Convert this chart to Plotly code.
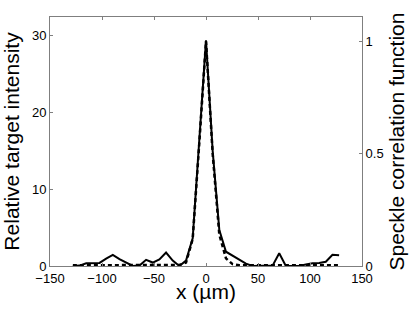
import plotly.graph_objects as go

# x positions (µm)
x_um = [-128.0, -121.6, -115.2, -108.8, -102.4, -96.0, -89.6, -83.2, -76.8, -70.4,
        -64.0, -57.6, -51.2, -44.8, -38.4, -32.0, -25.6, -19.2, -12.8, -6.4,
        0.0, 6.4, 12.8, 19.2, 25.6, 32.0, 38.4, 44.8, 51.2, 57.6,
        64.0, 70.4, 76.8, 83.2, 89.6, 96.0, 102.4, 108.8, 115.2, 121.6, 128.0]

# Relative target intensity (left axis, solid)
intensity = [0.0, 0.05, 0.35, 0.35, 0.4, 0.95, 1.45, 0.9, 0.4, 0.0,
             0.05, 0.8, 0.45, 0.85, 1.75, 0.7, 0.0, 0.7, 3.6, 16.3,
             29.4, 15.0, 4.7, 1.86, 1.35, 0.75, 0.3, 0.0, 0.0, 0.05,
             0.05, 1.65, 0.0, 0.0, 0.0, 0.2, 0.35, 0.4, 0.55, 1.45, 1.4]

# Speckle correlation function (right axis, dashed)
speckle = [0.003, 0.003, 0.003, 0.003, 0.003, 0.003, 0.003, 0.003, 0.003, 0.003,
           0.003, 0.003, 0.003, 0.003, 0.003, 0.003, 0.005, 0.015, 0.12, 0.55,
           1.0, 0.5, 0.14, 0.034, 0.008, 0.003, 0.003, 0.003, 0.003, 0.003,
           0.003, 0.003, 0.003, 0.003, 0.003, 0.003, 0.003, 0.003, 0.003, 0.003, 0.003]

x_ticks = [-150, -100, -50, 0, 50, 100, 150]
left_ticks = [0, 10, 20, 30]
right_ticks = [0, 0.5, 1]
right_tick_text = ["0", "0.5", "1"]

FONT = "Liberation Sans, Arial, sans-serif"
GRAY = "#7f7f7f"

fig = go.Figure()
fig.add_trace(go.Scatter(x=x_um, y=speckle, mode="lines", yaxis="y2",
                         line=dict(color="black", width=2.5, dash="4px,3px"),
                         showlegend=False))
fig.add_trace(go.Scatter(x=x_um, y=intensity, mode="lines",
                         line=dict(color="black", width=2),
                         showlegend=False))

fig.update_layout(
    width=415, height=311,
    margin=dict(l=50, r=53, t=17, b=45),
    paper_bgcolor="white", plot_bgcolor="white",
    font=dict(family=FONT, color="black", size=13),
    xaxis=dict(range=[-150, 150], tickvals=x_ticks, ticks="inside", ticklen=3,
               tickcolor=GRAY, showline=True, linecolor=GRAY, linewidth=1,
               mirror="ticks", showgrid=False, zeroline=False,
               tickfont=dict(size=13), automargin=False),
    yaxis=dict(range=[0, 32.44], tickvals=left_ticks, ticks="inside", ticklen=3,
               tickcolor=GRAY, showline=True, linecolor=GRAY, linewidth=1,
               showgrid=False, zeroline=False, tickfont=dict(size=13),
               automargin=False,
               title=dict(text="Relative target intensity", font=dict(size=21), standoff=7)),
    yaxis2=dict(range=[0, 1.108], tickvals=right_ticks, ticktext=right_tick_text,
                overlaying="y", side="right", ticks="inside", ticklen=3,
                tickcolor=GRAY, showline=True, linecolor=GRAY, linewidth=1,
                showgrid=False, zeroline=False, tickfont=dict(size=13),
                automargin=False,
                title=dict(text="Speckle correlation function", font=dict(size=21), standoff=6)),
    annotations=[dict(text="x (µm)", x=0, xref="x", y=0, yref="paper",
                      yanchor="middle", xanchor="center", yshift=-25,
                      showarrow=False, font=dict(size=21))],
)

fig.write_html("out.html", config={"displayModeBar": False},
               post_script="document.body.style.margin='0';")
